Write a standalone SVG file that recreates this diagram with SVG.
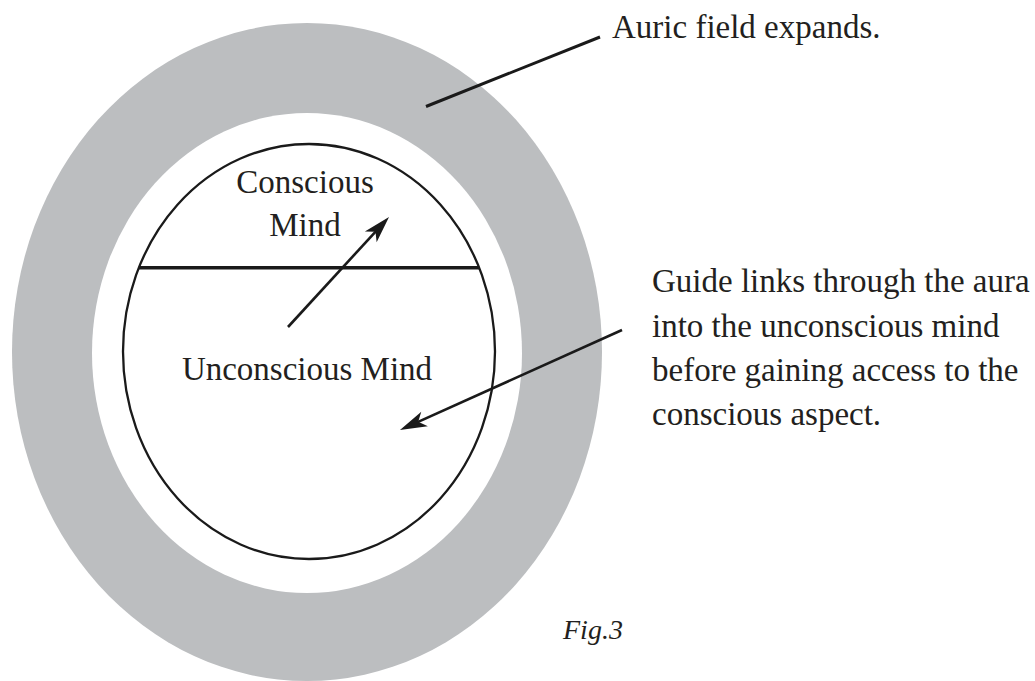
<svg xmlns="http://www.w3.org/2000/svg" width="1035" height="681" viewBox="0 0 1035 681">
  <style>
    .lbl { font-family: "Liberation Serif", "Times New Roman", serif; font-size: 33px; fill: #231f20; }
    .fig { font-family: "Liberation Serif", "Times New Roman", serif; font-size: 28px; font-style: italic; fill: #231f20; }
    .ln { stroke: #1a1a1a; fill: none; }
  </style>
  <defs>
    <marker id="ah" markerUnits="userSpaceOnUse" markerWidth="60" markerHeight="40" refX="0" refY="0" orient="auto" overflow="visible">
      <path d="M12,0 L-15,-8 L-8,0 L-15,8 Z" fill="#1a1a1a"/>
    </marker>
  </defs>
  <rect width="1035" height="681" fill="#ffffff"/>
  <g id="aura">
    <ellipse cx="307" cy="352" rx="295" ry="329" fill="#bcbec0"/>
    <ellipse cx="307" cy="353" rx="215" ry="240" fill="#ffffff"/>
  </g>
  <g id="mind">
    <ellipse class="ln" cx="309" cy="351.5" rx="186" ry="207.5" stroke-width="2.3"/>
    <line class="ln" x1="139" y1="267.7" x2="479" y2="267.7" stroke-width="3.6"/>
  </g>
  <g id="conscious">
    <text class="lbl" x="305" y="193" text-anchor="middle">Conscious</text>
    <text class="lbl" x="305" y="236" text-anchor="middle">Mind</text>
  </g>
  <g id="unconscious">
    <text class="lbl" x="307" y="380" text-anchor="middle">Unconscious Mind</text>
  </g>
  <g id="label-auric">
    <text class="lbl" x="612" y="38">Auric field expands.</text>
  </g>
  <g id="label-guide">
    <text class="lbl" x="652" y="292">Guide links through the aura</text>
    <text class="lbl" x="652" y="337">into the unconscious mind</text>
    <text class="lbl" x="652" y="381">before gaining access to the</text>
    <text class="lbl" x="652" y="425">conscious aspect.</text>
  </g>
  <g id="caption">
    <text class="fig" x="563" y="639">Fig.3</text>
  </g>
  <g id="connectors">
    <line class="ln" x1="426" y1="106.5" x2="600" y2="37" stroke-width="3"/>
    <line class="ln" x1="288" y1="327" x2="380.9" y2="225.8" stroke-width="2.6" marker-end="url(#ah)"/>
    <line class="ln" x1="622" y1="330" x2="410.9" y2="425.1" stroke-width="2.6" marker-end="url(#ah)"/>
  </g>
</svg>
